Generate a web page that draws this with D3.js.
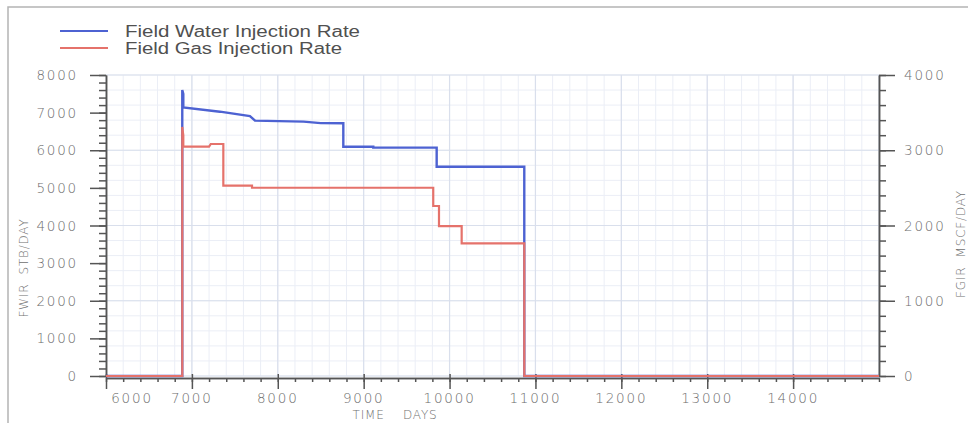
<!DOCTYPE html>
<html>
<head>
<meta charset="utf-8">
<script src="https://cdn.jsdelivr.net/npm/d3@7"></script>
<style>
  html, body { margin: 0; padding: 0; background: #fff; }
  svg { display: block; }
  .tick-lbl { font-family: "DejaVu Sans ExtraLight", "DejaVu Sans", sans-serif; font-weight: 200; font-size: 13.5px; fill: #6c6c6c; letter-spacing: 1.8px; }
  .ax-title { font-family: "DejaVu Sans ExtraLight", "DejaVu Sans", sans-serif; font-weight: 200; font-size: 12px; fill: #707070; letter-spacing: 0.8px; white-space: pre; }
  .legend { font-family: "Liberation Sans", Arial, sans-serif; font-size: 16px; fill: #505050; }
</style>
</head>
<body>
<svg id="chart" width="968" height="423"></svg>
<script>
// Field injection rates vs time (step-like history)
const waterDays  = [6000, 6888, 6888, 6900, 6900, 7327, 7676, 7735, 8300, 8500, 8763, 8763, 9112, 9112, 9850, 9850, 10870, 10870, 15000];
const waterRate  = [0,    0,    7600, 7500, 7141, 7025, 6910, 6786, 6760, 6720, 6716, 6095, 6095, 6069, 6069, 5563, 5563,  0,     0];

const gasDays    = [6000, 6888, 6888, 6900, 6900, 7200, 7220, 7366, 7366, 7700, 7700, 9810, 9810, 9877, 9877, 10141, 10141, 10870, 10870, 15000];
const gasRate    = [0,    0,    3310, 3200, 3047, 3047, 3083, 3083, 2530, 2530, 2502, 2502, 2259, 2259, 1993, 1993,  1763,  1763,  0,     0];

const xTickValues     = [6000, 7000, 8000, 9000, 10000, 11000, 12000, 13000, 14000];
const leftTickValues  = [0, 1000, 2000, 3000, 4000, 5000, 6000, 7000, 8000];
const rightTickValues = [0, 1000, 2000, 3000, 4000];

const seriesNames = ["Field Water Injection Rate", "Field Gas Injection Rate"];
const seriesColors = ["#4d62d2", "#e5726b"];

const svg = d3.select("#chart");

const plotL = 106, plotR = 879, plotT = 75, plotB = 376;
const x = d3.scaleLinear().domain([6000, 15000]).range([plotL, plotR]);
const yL = d3.scaleLinear().domain([0, 8000]).range([plotB, plotT]);
const yR = d3.scaleLinear().domain([0, 4000]).range([plotB, plotT]);

// outer frame
svg.append("path")
  .attr("d", "M8,423 L8,7 L968,7")
  .attr("fill", "none").attr("stroke", "#b4b4b4").attr("stroke-width", 1.5);

// grid: minor then major
const grid = svg.append("g");
const minorX = d3.range(6000, 15001, 200);
const minorY = d3.range(0, 4001, 200);
grid.append("g").selectAll("line").data(minorX).join("line")
  .attr("x1", d => x(d)).attr("x2", d => x(d)).attr("y1", plotT).attr("y2", plotB)
  .attr("stroke", "#ebeef6").attr("stroke-width", 1);
grid.append("g").selectAll("line").data(minorY).join("line")
  .attr("y1", d => yR(d)).attr("y2", d => yR(d)).attr("x1", plotL).attr("x2", plotR)
  .attr("stroke", "#ebeef6").attr("stroke-width", 1);
grid.append("g").selectAll("line").data(d3.range(7000, 15001, 1000)).join("line")
  .attr("x1", d => x(d)).attr("x2", d => x(d)).attr("y1", plotT).attr("y2", plotB)
  .attr("stroke", "#d9dfec").attr("stroke-width", 1.2);
grid.append("g").selectAll("line").data(rightTickValues).join("line")
  .attr("y1", d => yR(d)).attr("y2", d => yR(d)).attr("x1", plotL).attr("x2", plotR)
  .attr("stroke", "#d9dfec").attr("stroke-width", 1.2);

// axes
const axisColor = "#555";
function styleAxis(g) {
  g.select(".domain").attr("stroke", axisColor).attr("stroke-width", 1.5);
  g.selectAll(".tick line").attr("stroke", axisColor).attr("stroke-width", 1.5);
  g.selectAll(".tick text").remove();
}

// left axis (minor + major)
const gLm = svg.append("g").attr("transform", `translate(${plotL},0)`)
  .call(d3.axisLeft(yL).tickValues(d3.range(0, 8001, 200)).tickSize(7).tickSizeOuter(0));
styleAxis(gLm);
const gL = svg.append("g").attr("transform", `translate(${plotL},0)`)
  .call(d3.axisLeft(yL).tickValues(leftTickValues).tickSize(16).tickSizeOuter(0));
styleAxis(gL);
svg.append("g").selectAll("text").data(leftTickValues).join("text")
  .attr("class", "tick-lbl")
  .attr("x", 78).attr("y", d => yL(d) + 5)
  .attr("text-anchor", "end")
  .text(d => d);

// right axis
const gRm = svg.append("g").attr("transform", `translate(${plotR},0)`)
  .call(d3.axisRight(yR).tickValues(minorY).tickSize(7).tickSizeOuter(0));
styleAxis(gRm);
const gR = svg.append("g").attr("transform", `translate(${plotR},0)`)
  .call(d3.axisRight(yR).tickValues(rightTickValues).tickSize(16).tickSizeOuter(0));
styleAxis(gR);
svg.append("g").selectAll("text").data(rightTickValues).join("text")
  .attr("class", "tick-lbl")
  .attr("x", 904).attr("y", d => yR(d) + 5)
  .attr("text-anchor", "start")
  .text(d => d);

// bottom axis
const axisY = 378;
const gBm = svg.append("g").attr("transform", `translate(0,${axisY})`)
  .call(d3.axisBottom(x).tickValues(minorX).tickSize(4).tickSizeOuter(0));
styleAxis(gBm);
const gB = svg.append("g").attr("transform", `translate(0,${axisY})`)
  .call(d3.axisBottom(x).tickValues(xTickValues).tickSize(11).tickSizeOuter(0));
styleAxis(gB);
gB.selectAll(".tick line").attr("y1", -4);
svg.append("g").selectAll("text").data(xTickValues).join("text")
  .attr("class", "tick-lbl")
  .attr("x", d => x(d) + (d === 6000 ? 26 : 0)).attr("y", 403)
  .attr("text-anchor", "middle")
  .text(d => d);

// axis titles
svg.append("text").attr("class", "ax-title")
  .attr("transform", "translate(28,268) rotate(-90)")
  .attr("text-anchor", "middle").text("FWIR  STB/DAY");
svg.append("text").attr("class", "ax-title")
  .attr("transform", "translate(965,244) rotate(-90)")
  .attr("text-anchor", "middle").text("FGIR  MSCF/DAY");
svg.append("text").attr("class", "ax-title")
  .attr("x", 395).attr("y", 419)
  .attr("text-anchor", "middle").text("TIME    DAYS");

// series lines
const water = waterDays.map((d, i) => [d, waterRate[i]]);
const gas = gasDays.map((d, i) => [d, gasRate[i]]);
const lineL = d3.line().x(d => x(d[0])).y(d => yL(d[1]));
const lineR = d3.line().x(d => x(d[0])).y(d => yR(d[1]));
svg.append("path").datum(water).attr("d", lineL)
  .attr("fill", "none").attr("stroke", seriesColors[0]).attr("stroke-width", 2.4)
  .attr("stroke-linejoin", "miter");
svg.append("path").datum(gas).attr("d", lineR)
  .attr("fill", "none").attr("stroke", seriesColors[1]).attr("stroke-width", 2.2)
  .attr("stroke-linejoin", "miter");

// legend
const legendRows = [{y: 31, ty: 36.5, len: 235}, {y: 48, ty: 53.5, len: 217}];
seriesNames.forEach((name, i) => {
  svg.append("line")
    .attr("x1", 60).attr("x2", 108).attr("y1", legendRows[i].y).attr("y2", legendRows[i].y)
    .attr("stroke", seriesColors[i]).attr("stroke-width", 2);
  svg.append("text").attr("class", "legend")
    .attr("x", 125).attr("y", legendRows[i].ty)
    .attr("textLength", legendRows[i].len).attr("lengthAdjust", "spacingAndGlyphs")
    .text(name);
});
</script>
</body>
</html>
